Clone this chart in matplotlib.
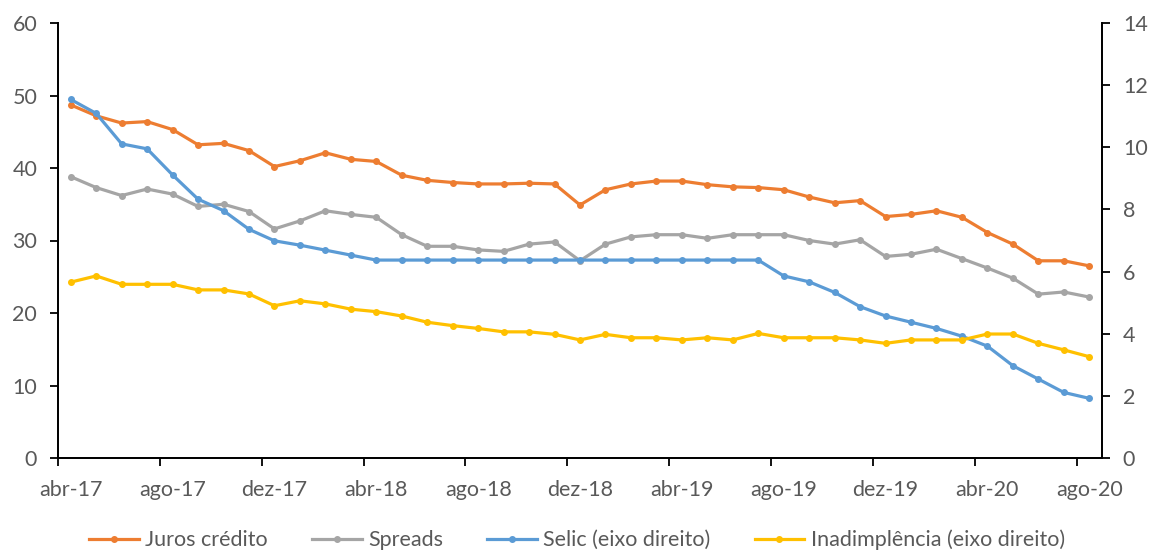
import numpy as np
import matplotlib.pyplot as plt

plt.rcParams['font.family'] = ['Lato', 'DejaVu Sans']

# meses abr-17 .. ago-20
meses = ['abr-17', 'ago-17', 'dez-17', 'abr-18', 'ago-18', 'dez-18',
         'abr-19', 'ago-19', 'dez-19', 'abr-20', 'ago-20']

juros = [48.7, 47.2, 46.2, 46.4, 45.3, 43.2, 43.4, 42.4, 40.2, 41.0,
         42.1, 41.2, 40.9, 39.0, 38.3, 38.0, 37.8, 37.8, 37.9, 37.8,
         34.9, 37.0, 37.8, 38.2, 38.2, 37.7, 37.4, 37.3, 37.0, 36.0,
         35.2, 35.5, 33.3, 33.6, 34.1, 33.2, 31.1, 29.5, 27.2, 27.2, 26.5]
spreads = [38.8, 37.3, 36.2, 37.1, 36.4, 34.7, 35.0, 34.0, 31.6, 32.7,
           34.1, 33.6, 33.2, 30.8, 29.2, 29.2, 28.7, 28.5, 29.5, 29.8,
           27.2, 29.5, 30.5, 30.8, 30.8, 30.3, 30.8, 30.8, 30.8, 30.0,
           29.5, 30.1, 27.8, 28.1, 28.8, 27.5, 26.2, 24.8, 22.6, 22.9, 22.2]
selic = [11.54, 11.09, 10.11, 9.95, 9.11, 8.33, 7.96, 7.36, 6.99, 6.85,
         6.69, 6.53, 6.37, 6.37, 6.37, 6.37, 6.37, 6.37, 6.37, 6.37,
         6.37, 6.37, 6.37, 6.37, 6.37, 6.37, 6.37, 6.37, 5.86, 5.67,
         5.33, 4.87, 4.57, 4.37, 4.17, 3.92, 3.60, 2.97, 2.54, 2.11, 1.92]
inadimp = [5.66, 5.86, 5.59, 5.59, 5.59, 5.41, 5.41, 5.28, 4.90, 5.06,
           4.96, 4.79, 4.71, 4.57, 4.37, 4.26, 4.17, 4.06, 4.06, 3.98,
           3.80, 3.98, 3.87, 3.87, 3.80, 3.87, 3.80, 4.01, 3.87, 3.87,
           3.87, 3.80, 3.69, 3.80, 3.80, 3.80, 3.99, 3.99, 3.69, 3.48, 3.26]

x = np.arange(len(juros))
txt = '#595959'
fs = 15.5

fig = plt.figure(figsize=(11.54, 5.52), dpi=100)
ax = fig.add_axes([58/1154, 1-458/552, (1102-58)/1154, (458-23)/552])
ax2 = ax.twinx()

lw, ms = 2.3, 4
l1, = ax.plot(x, juros, color='#ED7D31', lw=lw, marker='o', ms=ms, label='Juros crédito')
l2, = ax.plot(x, spreads, color='#A5A5A5', lw=lw, marker='o', ms=ms, label='Spreads')
l3, = ax2.plot(x, selic, color='#5B9BD5', lw=lw, marker='o', ms=ms, label='Selic (eixo direito)')
l4, = ax2.plot(x, inadimp, color='#FFC000', lw=lw, marker='o', ms=ms, label='Inadimplência (eixo direito)')

ax.set_xlim(-0.5, len(x) - 0.5)
ax.set_ylim(0, 60)
ax2.set_ylim(0, 14)
ax.set_yticks(range(0, 61, 10))
ax2.set_yticks(range(0, 15, 2))

ax.set_xticks(np.arange(-0.5, len(x), 4))
ax.set_xticklabels([])
ax.set_xticks(np.arange(0, len(x), 4), minor=True)
ax.set_xticklabels(meses, minor=True)
ax.tick_params(axis='x', which='minor', length=0, pad=16, labelsize=fs, labelcolor=txt)
ax.tick_params(axis='x', which='major', length=6, width=1.3, direction='out')
ax.tick_params(axis='y', length=6, width=1.3, labelsize=fs, labelcolor=txt, pad=9)
ax2.tick_params(axis='y', length=6, width=1.3, labelsize=fs, labelcolor=txt, pad=9)

for a in (ax, ax2):
    a.spines['top'].set_visible(False)
    for s in ('left', 'right', 'bottom'):
        a.spines[s].set_linewidth(1.3)
        a.spines[s].set_color('black')

fig.legend(handles=[l1, l2, l3, l4], loc='center', bbox_to_anchor=(0.5, 1-540/552),
           ncol=4, frameon=False, fontsize=fs, labelcolor=txt,
           handlelength=2.3, handletextpad=0.3, columnspacing=2.05)

fig.savefig('out.png', dpi=100)
